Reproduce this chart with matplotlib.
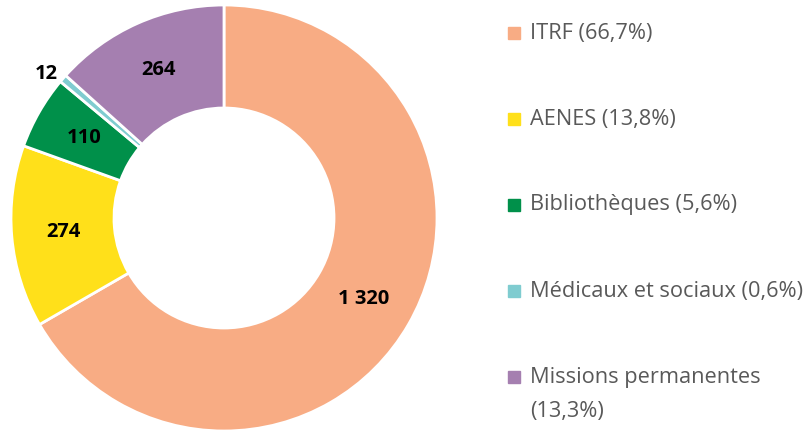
import numpy as np
import matplotlib
matplotlib.use('Agg')
import matplotlib.pyplot as plt
from matplotlib.patches import Rectangle

# donnees
categories = ['ITRF', 'AENES', 'Bibliothèques', 'Médicaux et sociaux', 'Missions permanentes']
effectifs = [1320, 274, 110, 12, 264]
pourcentages = ['66,7%', '13,8%', '5,6%', '0,6%', '13,3%']
etiquettes = ['1 320', '274', '110', '12', '264']
couleurs = ['#F8AC84', '#FFE01A', '#00904A', '#7FCCD0', '#A57FB0']

plt.rcParams['font.family'] = ['Open Sans', 'DejaVu Sans']

fig = plt.figure(figsize=(8.08, 4.30), dpi=100)
ax = fig.add_axes([11/808, -1/430, 426/808, 426/430])

r_in = 110/213
wedges, _ = ax.pie(effectifs, colors=couleurs, startangle=90, counterclock=False,
                   radius=1, wedgeprops=dict(width=1-r_in, edgecolor='white', linewidth=2))
ax.set_xlim(-1, 1)
ax.set_ylim(-1, 1)
ax.set_aspect('equal')
ax.axis('off')

r_mid = (1 + r_in)/2
for w, lab, n in zip(wedges, etiquettes, effectifs):
    ang = np.deg2rad((w.theta1 + w.theta2)/2)
    if n < 50:
        # petite part : etiquette a l'exterieur
        r = 1.03
        ax.text(r*np.cos(ang), r*np.sin(ang), lab, ha='right', va='center',
                fontsize=14.5, fontweight='bold', color='black')
    else:
        ax.text(r_mid*np.cos(ang), r_mid*np.sin(ang), lab, ha='center', va='center',
                fontsize=14.5, fontweight='bold', color='black')

# legende
y0 = 33
for i, (cat, pct, c) in enumerate(zip(categories, pourcentages, couleurs)):
    y = y0 + i*86
    fig.patches.append(Rectangle((508/808, 1 - (y+6)/430), 12/808, 12/430,
                                 transform=fig.transFigure, color=c))
    if cat == 'Missions permanentes':
        fig.text(530/808, 1 - y/430, cat, ha='left', va='center', fontsize=15.7,
                 color='#595959')
        fig.text(530/808, 1 - (y+35)/430, f'({pct})', ha='left', va='center',
                 fontsize=15.7, color='#595959')
    else:
        fig.text(530/808, 1 - y/430, f'{cat} ({pct})', ha='left', va='center',
                 fontsize=15.7, color='#595959')

fig.savefig('out.png', dpi=100)
